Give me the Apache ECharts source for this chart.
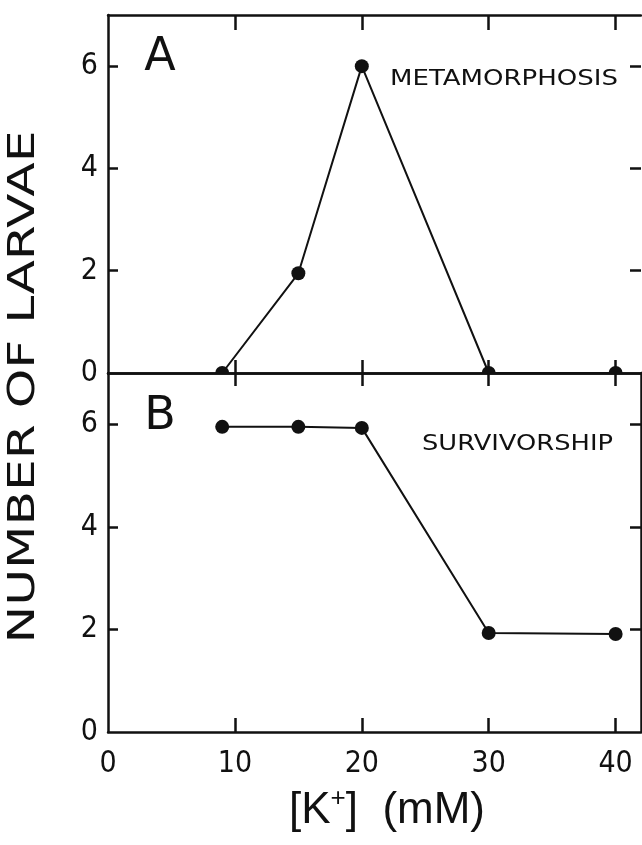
<!DOCTYPE html>
<html>
<head>
<meta charset="utf-8">
<script src="https://cdn.jsdelivr.net/npm/echarts@6/dist/echarts.min.js"></script>
<style>
html,body{margin:0;padding:0;background:#fff;}
#chart{width:642px;height:845px;}
</style>
</head>
<body>
<div id="chart"></div>
<script>
// ---- data ----
const concentrations = [9, 15, 20, 30, 40];          // [K+] (mM)
const metamorphosis = [0, 1.95, 6, 0, 0];            // panel A
const survivorship = [5.95, 5.95, 5.93, 1.93, 1.91]; // panel B
const xTickValues = [0, 10, 20, 30, 40];
const yTickValues = [0, 2, 4, 6];
const panelLabels = ['A', 'B'];
const seriesNames = ['METAMORPHOSIS', 'SURVIVORSHIP'];
const yTitle = 'NUMBER OF LARVAE';

const INK = '#111';
const numFont = "'DejaVu Sans Condensed', 'DejaVu Sans', sans-serif";
const txtFont = "'DejaVu Sans', sans-serif";

function measure(text, font) {
  const c = document.createElement('canvas').getContext('2d');
  c.font = font;
  return c.measureText(text).width;
}

function buildData(vals) {
  return concentrations.map((x, i) => {
    const v = vals[i];
    if (v === 0) {
      return {
        value: [x, v],
        symbol: 'path://M0,10 A10,10 0 0 1 20,10 Z',
        symbolSize: [14, 7],
        symbolOffset: [0, -3.5]
      };
    }
    return [x, v];
  });
}

const axisLine = { show: true, onZero: false, lineStyle: { color: INK, width: 2.5 } };
const tickStyle = { color: INK, width: 2.5 };
const xTicksInner = xTickValues.filter(v => v !== 0);
const yTicksInner = yTickValues.filter(v => v !== 0);

function xAxis(grid, pos, len, showLabels) {
  return {
    type: 'value', gridIndex: grid, position: pos, min: 0, max: 42, interval: 10,
    axisLine: axisLine,
    axisTick: { show: true, inside: true, length: len, customValues: xTicksInner, lineStyle: tickStyle },
    axisLabel: showLabels ? { show: true, customValues: xTickValues, color: INK, fontFamily: numFont, fontSize: 30, margin: 17 } : { show: false },
    splitLine: { show: false }
  };
}
function yAxis(grid, pos, showLine, showLabels, len) {
  return {
    type: 'value', gridIndex: grid, position: pos, min: 0, max: 7, interval: 1,
    axisLine: Object.assign({}, axisLine, { show: showLine }),
    axisTick: { show: true, inside: true, length: len, customValues: yTicksInner, lineStyle: tickStyle },
    axisLabel: showLabels ? { show: true, customValues: yTickValues, color: INK, fontFamily: numFont, fontSize: 30, margin: 10 } : { show: false },
    splitLine: { show: false }
  };
}

const chart = echarts.init(document.getElementById('chart'), null, { renderer: 'canvas' });

const labelFont = 21;
const yTitleFont = 37;
const metaW = measure(seriesNames[0], labelFont + 'px ' + txtFont);
const survW = measure(seriesNames[1], labelFont + 'px ' + txtFont);
const yTitleW = measure(yTitle, yTitleFont + 'px ' + txtFont);

const option = {
  animation: false,
  backgroundColor: '#fff',
  grid: [
    { left: 108, right: 1, top: 15, height: 358 },
    { left: 108, right: 1, top: 373, height: 359 }
  ],
  xAxis: [
    xAxis(0, 'bottom', 13, false),
    xAxis(0, 'top', 15, false),
    xAxis(1, 'bottom', 14, true),
    xAxis(1, 'top', 13, false)
  ],
  yAxis: [
    yAxis(0, 'left', true, true, 10),
    yAxis(0, 'right', false, false, 11),
    yAxis(1, 'left', true, true, 10),
    yAxis(1, 'right', true, false, 11)
  ],
  series: [
    {
      name: seriesNames[0], type: 'line', xAxisIndex: 0, yAxisIndex: 0,
      data: buildData(metamorphosis), symbol: 'circle', symbolSize: 14, clip: false,
      itemStyle: { color: INK }, lineStyle: { color: INK, width: 2 }
    },
    {
      name: seriesNames[1], type: 'line', xAxisIndex: 2, yAxisIndex: 2,
      data: buildData(survivorship), symbol: 'circle', symbolSize: 14, clip: false,
      itemStyle: { color: INK }, lineStyle: { color: INK, width: 2 }
    }
  ],
  graphic: [
    { type: 'text', x: 160, y: 58, style: { text: panelLabels[0], font: '46px ' + txtFont, fill: INK, align: 'center', verticalAlign: 'middle' } },
    { type: 'text', x: 160, y: 417, style: { text: panelLabels[1], font: '46px ' + txtFont, fill: INK, align: 'center', verticalAlign: 'middle' } },
    { type: 'text', x: 390, y: 80, scaleX: 228 / metaW, style: { text: seriesNames[0], font: labelFont + 'px ' + txtFont, fill: INK, align: 'left', verticalAlign: 'middle' } },
    { type: 'text', x: 422, y: 445, scaleX: 191 / survW, style: { text: seriesNames[1], font: labelFont + 'px ' + txtFont, fill: INK, align: 'left', verticalAlign: 'middle' } },
    { type: 'text', x: 24, y: 387, rotation: Math.PI / 2, scaleX: 513 / yTitleW, style: { text: yTitle, font: yTitleFont + 'px ' + txtFont, fill: INK, align: 'center', verticalAlign: 'middle' } },
    { type: 'text', x: 387, y: 811, style: {
        text: '{a|[K}{s|+}{a|]  (mM)}', fill: INK, align: 'center', verticalAlign: 'middle',
        rich: {
          a: { fontFamily: "'Liberation Sans', sans-serif", fontSize: 44, lineHeight: 50, verticalAlign: 'middle', fill: INK },
          s: { fontFamily: "'Liberation Sans', sans-serif", fontSize: 26, lineHeight: 50, verticalAlign: 'top', fill: INK }
        }
    } }
  ]
};
chart.setOption(option);
</script>
</body>
</html>
